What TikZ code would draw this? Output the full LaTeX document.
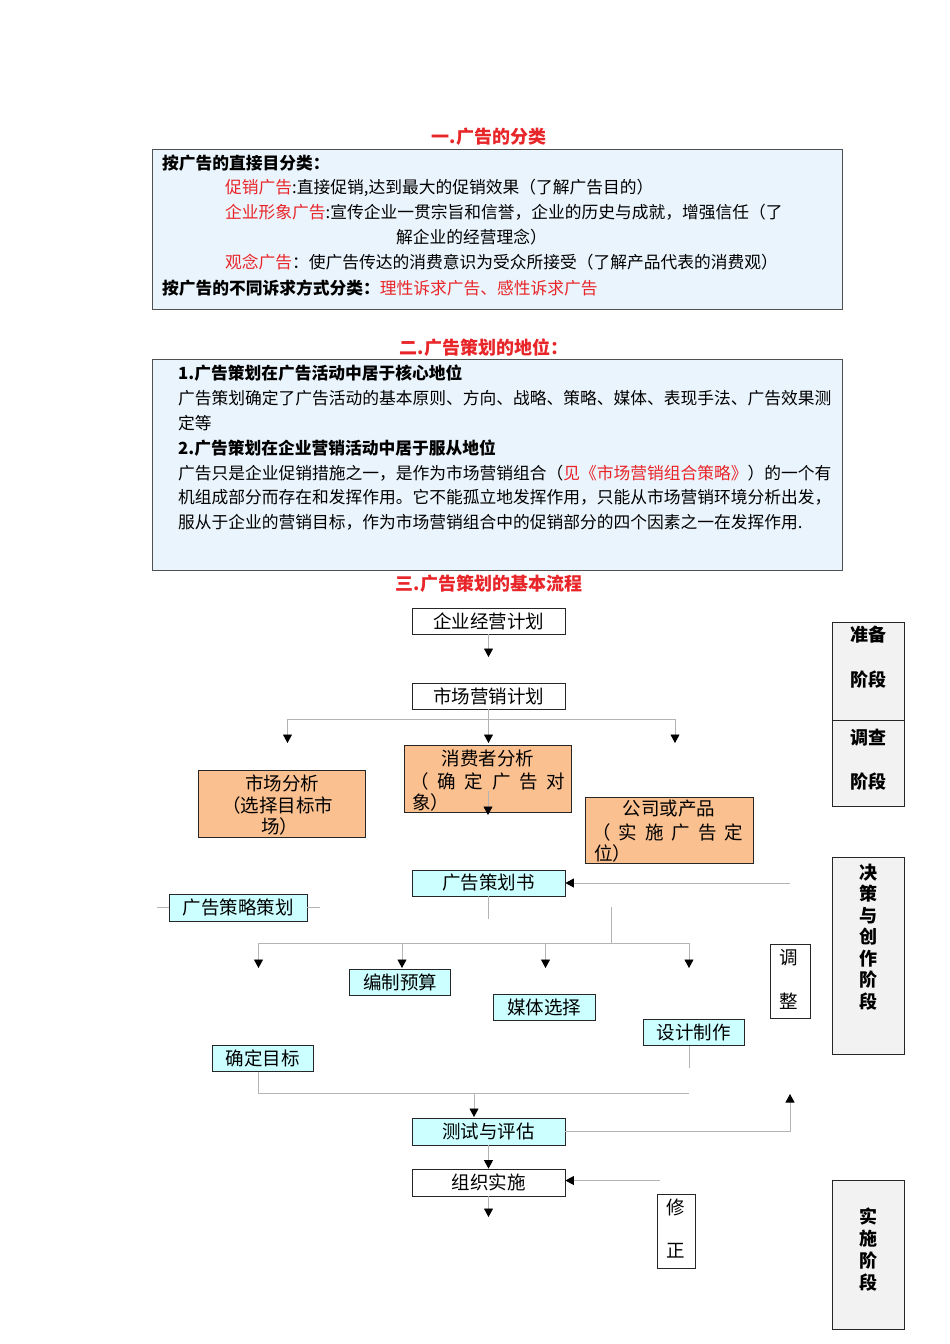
\documentclass[tikz,border=0pt]{standalone}
\usepackage{fontspec}
\setmainfont{Noto Sans CJK SC}
\usetikzlibrary{arrows.meta}
\definecolor{boxblue}{HTML}{EAF4FC}
\definecolor{orng}{HTML}{FAC090}
\definecolor{cyanbox}{HTML}{CCFFFF}
\definecolor{stagegray}{HTML}{F2F2F2}
\definecolor{redtxt}{HTML}{E8262A}
\definecolor{linegray}{HTML}{B4B4B4}
\definecolor{frame}{HTML}{505050}
\begin{document}
\begin{tikzpicture}[x=1pt,y=-1pt,
 txt/.style={anchor=base west, inner sep=0pt, font=\fontsize{16.75}{18}\selectfont},
 ttl/.style={inner sep=0pt, font=\fontsize{18}{20}\selectfont\bfseries, text=redtxt},
 panel/.style={draw=frame, line width=0.8pt, fill=boxblue, inner sep=0pt},
 fbox/.style={draw=black!85, line width=0.8pt, inner sep=0pt, font=\fontsize{18.5}{20}\selectfont},
 wbox/.style={fbox, fill=white},
 cbox/.style={fbox, fill=cyanbox},
 obox/.style={fbox, fill=orng},
 sbox/.style={draw=black!85, line width=0.8pt, fill=stagegray, inner sep=0pt},
 ftxt/.style={inner sep=0pt, font=\fontsize{18.5}{20}\selectfont},
 stxt/.style={inner sep=0pt, align=center, font=\fontsize{18}{21.5}\selectfont\bfseries},
 conn/.style={draw=linegray, line width=0.8pt},
 arr/.style={conn, -{Triangle[length=8.5pt,width=9pt,color=black]}}
]
\useasboundingbox (0,0) rectangle (950,1344);

% ---------- Section 1 ----------
\node[ttl] (t1) at (489,137) {一.广告的分类};
\node[panel, minimum width=690pt, minimum height=160pt] (p1) at (497,229) {};
\node[txt] (l11) at (162,169) {\bfseries 按广告的直接目分类：};
\node[txt] (l12) at (225,193) {{\color{redtxt}促销广告}:直接促销,达到最大的促销效果（了解广告目的）};
\node[txt] (l13) at (225,218) {{\color{redtxt}企业形象广告}:宣传企业一贯宗旨和信誉，企业的历史与成就，增强信任（了};
\node[txt] (l14) at (396,243) {解企业的经营理念）};
\node[txt] (l15) at (225,268) {{\color{redtxt}观念广告}：使广告传达的消费意识为受众所接受（了解产品代表的消费观）};
\node[txt] (l16) at (162,294) {{\bfseries 按广告的不同诉求方式分类：}{\color{redtxt}理性诉求广告、感性诉求广告}};

% ---------- Section 2 ----------
\node[ttl] (t2) at (484,348) {二.广告策划的地位：};
\node[panel, minimum width=690pt, minimum height=211pt] (p2) at (497,464.5) {};
\node[txt] (l21) at (178,379) {\bfseries 1.广告策划在广告活动中居于核心地位};
\node[txt] (l22) at (178,404) {广告策划确定了广告活动的基本原则、方向、战略、策略、媒体、表现手法、广告效果测};
\node[txt] (l23) at (178,429) {定等};
\node[txt] (l24) at (178,454) {\bfseries 2.广告策划在企业营销活动中居于服从地位};
\node[txt] (l25) at (178,479) {广告只是企业促销措施之一，是作为市场营销组合（{\color{redtxt}见《市场营销组合策略》}）的一个有};
\node[txt] (l26) at (178,503) {机组成部分而存在和发挥作用。它不能孤立地发挥作用，只能从市场营销环境分析出发，};
\node[txt] (l27) at (178,528) {服从于企业的营销目标，作为市场营销组合中的促销部分的四个因素之一在发挥作用.};

% ---------- Section 3 ----------
\node[ttl] (t3) at (489,584) {三.广告策划的基本流程};

\node[wbox, minimum width=153pt, minimum height=26pt] (plan1) at (488.5,621) {企业经营计划};
\node[wbox, minimum width=153pt, minimum height=26pt] (plan2) at (488.5,696) {市场营销计划};

\coordinate (a1) at (488.5,657);
\draw[arr] (plan1.south) -- (a1);

\coordinate (hl) at (287.5,719);
\coordinate (hr) at (675,719);
\coordinate (a2) at (488.5,743);
\draw[arr] (plan2.south) -- (a2);
\draw[conn] (hl) -- (hr);
\draw[arr] (hl) -- (287.5,743);
\draw[arr] (hr) -- (675,743);

\node[obox, minimum width=166.5pt, minimum height=67pt] (cons) at (487.75,778.5) {};
\node[ftxt] (cons1) at (488,758) {消费者分析};
\node[ftxt, anchor=west] (cons2) at (410,781) {\makebox[155pt][s]{（ 确 定 广 告 对}};
\node[ftxt, anchor=west] (cons3) at (412,802) {象）};
\coordinate (c1) at (488,791);
\coordinate (c2) at (488,815);
\draw[arr] (c1) -- (c2);

\node[obox, minimum width=167pt, minimum height=67pt] (mkt) at (281.5,803.5) {};
\node[ftxt] (mkt1) at (282,783) {市场分析};
\node[ftxt, anchor=west] (mkt2) at (222,805) {（选择目标市};
\node[ftxt, anchor=west] (mkt3) at (261,826) {场）};

\node[obox, minimum width=168pt, minimum height=66pt] (comp) at (669,830) {};
\node[ftxt] (comp1) at (669,809) {公司或产品};
\node[ftxt, anchor=west] (comp2) at (592,832) {\makebox[151pt][s]{（ 实 施 广 告 定}};
\node[ftxt, anchor=west] (comp3) at (594,853) {位）};

\node[cbox, minimum width=153pt, minimum height=26pt] (book) at (488.5,883) {广告策划书};
\coordinate (br) at (790,883);
\draw[arr] (br) -- (book.east);

\node[cbox, minimum width=138pt, minimum height=27pt] (strat) at (238,907.5) {广告策略策划};
\coordinate (sl) at (157,907.5);
\coordinate (sr) at (320,907.5);
\draw[conn] (sl) -- (strat.west);
\draw[conn] (strat.east) -- (sr);

\coordinate (bk) at (488.5,919);
\draw[conn] (book.south) -- (bk);
\coordinate (v1) at (611,907);
\coordinate (v2) at (611,943);
\draw[conn] (v1) -- (v2);
\coordinate (h2l) at (258.5,943);
\coordinate (h2r) at (689,943);
\draw[conn] (h2l) -- (h2r);
\draw[arr] (h2l) -- (258.5,968);
\draw[arr] (402,943) -- (402,968);
\draw[arr] (545.5,943) -- (545.5,968);
\draw[arr] (h2r) -- (689,968);

\node[cbox, minimum width=101pt, minimum height=26pt] (budget) at (400,982.5) {编制预算};
\node[cbox, minimum width=102pt, minimum height=26pt] (media) at (544,1007.5) {媒体选择};
\node[cbox, minimum width=101pt, minimum height=26pt] (design) at (693.5,1032.5) {设计制作};
\node[cbox, minimum width=101pt, minimum height=26pt] (target) at (262.5,1058.5) {确定目标};

\node[wbox, minimum width=40pt, minimum height=74pt] (adj) at (790,981) {};
\node[ftxt] (adj1) at (789,958) {调};
\node[ftxt] (adj2) at (789,1001) {整};

\coordinate (tg1) at (258.5,1071.5);
\coordinate (tg2) at (258.5,1093);
\coordinate (tg3) at (689,1093);
\draw[conn] (tg1) -- (tg2) -- (tg3);
\coordinate (ds1) at (689,1068);
\draw[conn] (design.south -| ds1) -- (ds1);
\coordinate (m1) at (474,1093);
\coordinate (m2) at (474,1117);
\draw[arr] (m1) -- (m2);

\node[cbox, minimum width=153pt, minimum height=27pt] (test) at (488.5,1131.5) {测试与评估};
\coordinate (tr) at (790,1131.5);
\coordinate (tu) at (790,1094);
\draw[arr] (test.east) -- (tr) -- (tu);

\node[wbox, minimum width=153pt, minimum height=27pt] (exec) at (488.5,1182.5) {组织实施};
\draw[arr] (test.south) -- (exec.north);
\coordinate (er) at (660,1180.5);
\draw[arr] (er) -- (exec.east |- er);
\coordinate (ed) at (488.5,1217);
\draw[arr] (exec.south) -- (ed);

\node[wbox, minimum width=38pt, minimum height=74pt] (fix) at (676,1231) {};
\node[ftxt] (fix1) at (676,1207) {修};
\node[ftxt] (fix2) at (676,1251) {正};

% ---------- stage column ----------
\node[sbox, minimum width=72pt, minimum height=98pt] (st1) at (868,671) {};
\node[sbox, minimum width=72pt, minimum height=86pt] (st2) at (868,763) {};
\node[stxt] (st1a) at (868,635) {准备};
\node[stxt] (st1b) at (868,680) {阶段};
\node[stxt] (st2a) at (868,738) {调查};
\node[stxt] (st2b) at (868,782) {阶段};

\node[sbox, minimum width=72pt, minimum height=197pt] (st3) at (868,955.5) {};
\node[stxt] (st3t) at (868,937) {决\\策\\与\\创\\作\\阶\\段};

\node[sbox, minimum width=72pt, minimum height=149pt] (st4) at (868,1254.5) {};
\node[stxt, font=\fontsize{18}{22}\selectfont\bfseries] (st4t) at (868,1250) {实\\施\\阶\\段};
\end{tikzpicture}
\end{document}
